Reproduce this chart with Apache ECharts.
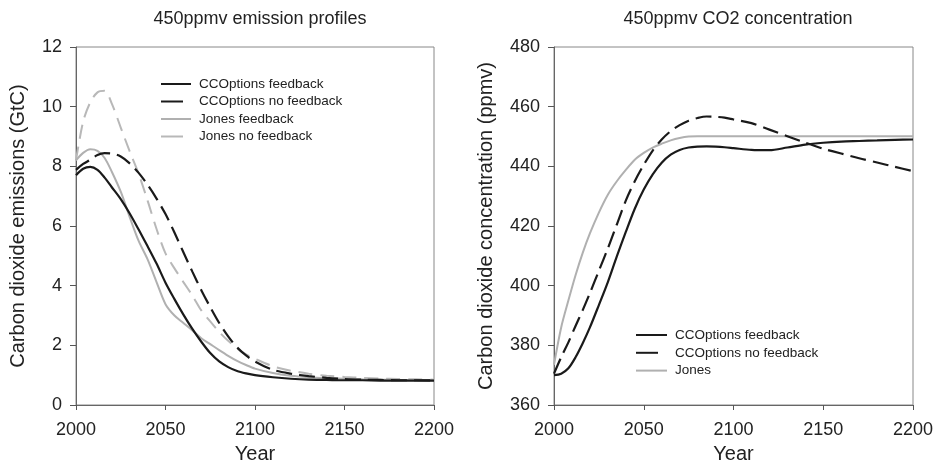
<!DOCTYPE html>
<html>
<head>
<meta charset="utf-8">
<script src="https://cdn.jsdelivr.net/npm/echarts@6/dist/echarts.min.js"></script>
<style>
html,body{margin:0;padding:0;background:#fff;}
#chart{width:937px;height:464px;}
</style>
</head>
<body>
<div id="chart"></div>
<script>
// ---- Data ----
const years = [2000, 2004, 2008, 2012, 2016, 2020, 2025, 2030, 2035, 2040, 2045, 2050, 2055, 2060, 2065, 2070, 2075, 2080, 2085, 2090, 2095, 2100, 2110, 2120, 2130, 2140, 2150, 2160, 2170, 2180, 2190, 2200];

// Left panel: emissions (GtC)
const emisCCFeedback   = [7.7, 7.92, 7.98, 7.88, 7.62, 7.3, 6.9, 6.42, 5.88, 5.32, 4.74, 4.1, 3.55, 3.03, 2.55, 2.12, 1.74, 1.46, 1.27, 1.14, 1.06, 1.0, 0.93, 0.88, 0.85, 0.84, 0.83, 0.83, 0.82, 0.82, 0.82, 0.82];
const emisCCNoFeedback = [7.88, 8.08, 8.22, 8.38, 8.44, 8.43, 8.33, 8.1, 7.78, 7.38, 6.92, 6.4, 5.78, 5.12, 4.47, 3.85, 3.28, 2.75, 2.3, 1.93, 1.66, 1.46, 1.18, 1.05, 0.97, 0.91, 0.87, 0.85, 0.84, 0.83, 0.83, 0.82];
const emisJonesFeedback   = [8.2, 8.45, 8.57, 8.52, 8.28, 7.82, 7.15, 6.3, 5.5, 4.88, 4.12, 3.38, 3.0, 2.75, 2.5, 2.24, 2.04, 1.84, 1.65, 1.48, 1.34, 1.22, 1.07, 0.98, 0.93, 0.9, 0.88, 0.86, 0.85, 0.84, 0.84, 0.83];
const emisJonesNoFeedback = [8.2, 9.5, 10.15, 10.48, 10.53, 10.1, 9.3, 8.5, 7.75, 6.85, 5.9, 5.08, 4.58, 4.12, 3.67, 3.17, 2.8, 2.45, 2.15, 1.9, 1.7, 1.55, 1.3, 1.15, 1.05, 0.98, 0.94, 0.91, 0.89, 0.87, 0.86, 0.85];

// Right panel: CO2 concentration (ppmv)
const concCCFeedback   = [370, 370.5, 372.3, 376, 380.7, 386, 393.5, 401.2, 409.8, 418, 425.8, 432.2, 437.3, 441.2, 443.9, 445.5, 446.3, 446.6, 446.7, 446.6, 446.4, 446.1, 445.5, 445.4, 446.3, 447.3, 447.9, 448.3, 448.5, 448.7, 448.9, 449.0];
const concCCNoFeedback = [370.5, 376, 381, 386.5, 391.8, 397.5, 405, 412.5, 420.5, 428.5, 435, 440.5, 445.3, 449, 451.8, 453.8, 455.3, 456.2, 456.7, 456.6, 456.3, 455.7, 454.5, 452.3, 450.1, 447.9, 445.9, 444.3, 442.7, 441.3, 439.8, 438.4];
const concJones        = [373.5, 386, 395, 403.5, 411, 417.5, 424.5, 430.5, 435, 438.8, 442.2, 444.5, 446.3, 447.6, 448.7, 449.5, 450, 450.1, 450.1, 450.1, 450.1, 450.1, 450.1, 450.1, 450.1, 450.1, 450.1, 450.1, 450.1, 450.1, 450.1, 450.1];

const leftTitle = '450ppmv emission profiles';
const rightTitle = '450ppmv CO2 concentration';
const xName = 'Year';
const leftYName = 'Carbon dioxide emissions (GtC)';
const rightYName = 'Carbon dioxide concentration (ppmv)';
const leftNames = ['CCOptions feedback', 'CCOptions no feedback', 'Jones feedback', 'Jones no feedback'];
const rightNames = ['CCOptions feedback', 'CCOptions no feedback', 'Jones'];

// ---- Chart ----
const FONT = '"Liberation Sans", Arial, Helvetica, sans-serif';
const BLACK = '#1a1a1a';
const GREY = '#b0b0b0';
const GREY_D = '#b8b8b8';
const DASH_BLACK = [16, 7];
const DASH_GREY = [14, 8];

function pairs(vals) { return years.map((y, i) => [y, vals[i]]); }

function xAxisDef(gridIndex) {
  return {
    type: 'value', gridIndex, min: 2000, max: 2200, interval: 50,
    name: xName, nameLocation: 'middle', nameGap: 39,
    nameTextStyle: { fontFamily: FONT, fontSize: 20, color: '#222' },
    axisLine: { show: true, lineStyle: { color: '#666', width: 1 } },
    axisTick: { show: true, length: 5, lineStyle: { color: '#555' } },
    axisLabel: { fontFamily: FONT, fontSize: 18, color: '#222', margin: 16, formatter: v => String(v) },
    splitLine: { show: false }
  };
}
function yAxisDef(gridIndex, min, max, interval, name, gap) {
  return {
    type: 'value', gridIndex, min, max, interval,
    name, nameLocation: 'middle', nameGap: gap,
    nameTextStyle: { fontFamily: FONT, fontSize: 20, color: '#222' },
    axisLine: { show: true, lineStyle: { color: '#666', width: 1 } },
    axisTick: { show: true, length: 6, lineStyle: { color: '#555' } },
    axisLabel: { fontFamily: FONT, fontSize: 18, color: '#222', margin: 14, formatter: v => String(v) },
    splitLine: { show: false }
  };
}
function lineSeries(name, vals, idx, color, dashed, width) {
  return {
    name, type: 'line', xAxisIndex: idx, yAxisIndex: idx,
    data: pairs(vals), smooth: 0.3,
    showSymbol: false, symbol: 'none', animation: false,
    itemStyle: { color },
    lineStyle: { color, width, type: dashed }
  };
}
function legendData(names, dashes) {
  return names.map((n, i) => dashes[i] ? { name: n, lineStyle: { type: [22, 30] } } : { name: n });
}

const chart = echarts.init(document.getElementById('chart'), null, { renderer: 'canvas' });
chart.setOption({
  backgroundColor: '#fff',
  animation: false,
  title: [
    { text: leftTitle, left: 255, top: 5, textAlign: 'center',
      textStyle: { fontFamily: FONT, fontSize: 18, fontWeight: 'normal', color: '#222' } },
    { text: rightTitle, left: 733, top: 5, textAlign: 'center',
      textStyle: { fontFamily: FONT, fontSize: 18, fontWeight: 'normal', color: '#222' } }
  ],
  grid: [
    { left: 76, top: 47, width: 358, height: 358, show: true, borderColor: '#888', borderWidth: 1,
      containLabel: false, outerBoundsMode: 'none' },
    { left: 554, top: 47, width: 359, height: 358, show: true, borderColor: '#888', borderWidth: 1,
      containLabel: false, outerBoundsMode: 'none' }
  ],
  xAxis: [xAxisDef(0), xAxisDef(1)],
  yAxis: [
    yAxisDef(0, 0, 12, 2, leftYName, 48),
    yAxisDef(1, 360, 480, 20, rightYName, 58)
  ],
  legend: [
    { data: legendData(leftNames, [false, true, false, true]), orient: 'vertical', left: 160, top: 77, padding: 0,
      itemWidth: 30, itemHeight: 14, itemGap: 3.5, itemStyle: { opacity: 0 },
      textStyle: { fontFamily: FONT, fontSize: 13.5, color: '#222', padding: [0, 0, 0, 3] }, selectedMode: false },
    { data: legendData(rightNames, [false, true, false]), orient: 'vertical', left: 635, top: 328, padding: 0,
      itemWidth: 31, itemHeight: 14, itemGap: 3.8, itemStyle: { opacity: 0 },
      textStyle: { fontFamily: FONT, fontSize: 13.5, color: '#222', padding: [0, 0, 0, 3] }, selectedMode: false }
  ],
  series: [
    lineSeries(leftNames[3], emisJonesNoFeedback, 0, GREY_D, DASH_GREY, 2),
    lineSeries(leftNames[2], emisJonesFeedback, 0, GREY, 'solid', 2),
    lineSeries(leftNames[1], emisCCNoFeedback, 0, BLACK, DASH_BLACK, 2.2),
    lineSeries(leftNames[0], emisCCFeedback, 0, BLACK, 'solid', 2.2),
    lineSeries(rightNames[2], concJones, 1, GREY, 'solid', 2),
    lineSeries(rightNames[1], concCCNoFeedback, 1, BLACK, DASH_BLACK, 2.2),
    lineSeries(rightNames[0], concCCFeedback, 1, BLACK, 'solid', 2.2)
  ]
});
</script>
</body>
</html>
